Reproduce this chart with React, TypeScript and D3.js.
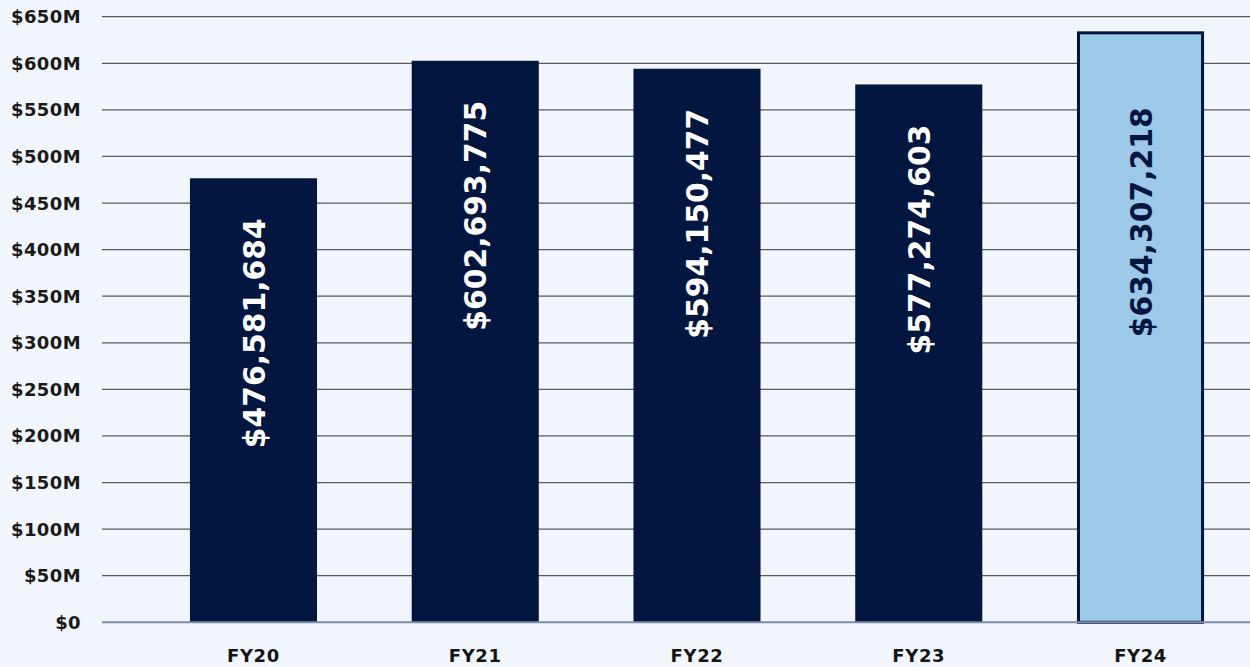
import React from "react";
import * as d3 from "d3";

const categories = ["FY20", "FY21", "FY22", "FY23", "FY24"];
const values = [476581684, 602693775, 594150477, 577274603, 634307218];
const highlighted = [false, false, false, false, true];
const yTicks = [0, 50e6, 100e6, 150e6, 200e6, 250e6, 300e6, 350e6, 400e6, 450e6, 500e6, 550e6, 600e6, 650e6];

const W = 1250;
const H = 667;
const BG = "#F1F6FD";
const NAVY = "#02163F";
const LIGHT = "#9CC8E9";

export default function App() {
  const y = d3.scaleLinear().domain([0, 650e6]).range([622.3, 16.7]);
  const x = d3
    .scaleBand<string>()
    .domain(categories)
    .range([142.6, 1251.4])
    .paddingInner(0.427)
    .paddingOuter(0.2135);
  const fmt = d3.format(",");
  const tickFmt = (v: number) => (v === 0 ? "$0" : `$${v / 1e6}M`);
  const font = "'DejaVu Sans', sans-serif";
  const labelFont = "'DejaVu Sans', sans-serif";

  return (
    <svg
      width={W}
      height={H}
      style={{ position: "absolute", left: 0, top: 0, background: BG }}
    >
      <rect x={0} y={0} width={W} height={H} fill={BG} />
      {yTicks.map((t) =>
        t === 0 ? null : (
          <line
            key={t}
            x1={102}
            x2={W}
            y1={y(t)}
            y2={y(t)}
            stroke="#5a5a5a"
            strokeWidth={1.3}
          />
        )
      )}
      {yTicks.map((t) => (
        <text
          key={"l" + t}
          x={81}
          y={y(t)}
          dy="0.36em"
          textAnchor="end"
          fontFamily={font}
          fontWeight="bold"
          fontSize={18}
          letterSpacing={0.4}
          fill="#1a1a1a"
        >
          {tickFmt(t)}
        </text>
      ))}
      {categories.map((c, i) => {
        const bx = x(c)!;
        const bw = x.bandwidth();
        const top = y(values[i]);
        const hl = highlighted[i];
        return (
          <g key={c}>
            <rect
              x={hl ? bx + 1.5 : bx}
              y={hl ? top + 1.5 : top}
              width={hl ? bw - 3 : bw}
              height={hl ? y(0) - top - 1.5 : y(0) - top}
              fill={hl ? LIGHT : NAVY}
              stroke={hl ? NAVY : "none"}
              strokeWidth={hl ? 3 : 0}
            />
          </g>
        );
      })}
      <line x1={102} x2={W} y1={y(0)} y2={y(0)} stroke="#7C8BA6" strokeWidth={2} />
      {categories.map((c, i) => {
        const cx = x(c)! + x.bandwidth() / 2;
        const top = y(values[i]);
        const hl = highlighted[i];
        const endY = top + (hl ? 76 : 40);
        return (
          <g key={"t" + c}>
            <text
              transform={`translate(${cx},${endY}) rotate(-90)`}
              textAnchor="end"
              dy="0.36em"
              fontFamily={labelFont}
              fontWeight="bold"
              fontSize={31}
              fill={hl ? NAVY : "#ffffff"}
              textLength={230}
              lengthAdjust="spacingAndGlyphs"
            >
              {"$" + fmt(values[i])}
            </text>
            <text
              x={cx}
              y={656}
              dy="0.36em"
              textAnchor="middle"
              fontFamily={font}
              fontWeight="bold"
              fontSize={18}
              letterSpacing={0.6}
              fill="#141414"
            >
              {c}
            </text>
          </g>
        );
      })}
    </svg>
  );
}
